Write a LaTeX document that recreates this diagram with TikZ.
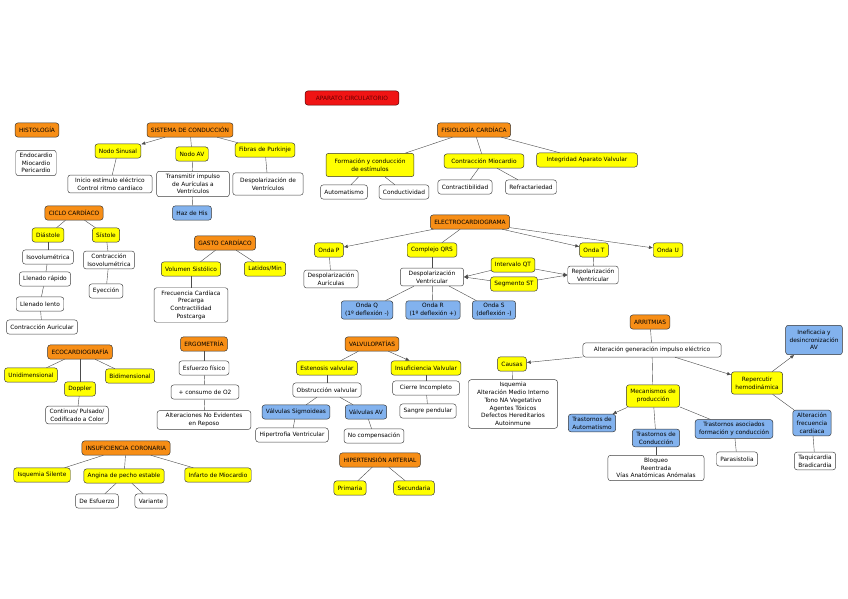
\documentclass[tikz,border=0pt]{standalone}
\usepackage{fontspec}
\setmainfont{DejaVu Sans}
\usetikzlibrary{arrows.meta}
\definecolor{mapred}{RGB}{240,20,20}
\definecolor{maporange}{RGB}{247,142,22}
\definecolor{mapyellow}{RGB}{255,255,0}
\definecolor{mapblue}{RGB}{130,178,238}
\tikzset{
  box/.style={draw=black!80, rounded corners=2.2pt, align=center, line width=0.4pt,
    inner xsep=3.3pt, inner ysep=2.3pt, minimum height=12pt,
    font=\fontsize{5}{6.6}\selectfont},
  titlebox/.style={box, fill=mapred, draw=black!70!red, text=black!60!red, minimum width=80pt},
  topic/.style={box, fill=maporange},
  idea/.style={box, fill=mapyellow},
  detail/.style={box, fill=mapblue},
  plain/.style={box, fill=white, draw=black!75},
  link/.style={draw=black!70, line width=0.35pt},
}
\begin{document}
\begin{tikzpicture}[x=0.03cm, y=-0.03cm, >={Latex[length=3.5pt,width=3pt]}]
  \useasboundingbox (0,0) rectangle (848,599);
  % title
  \node[titlebox] (aparato) at (352,98) {APARATO CIRCULATORIO};

  % histologia
  \node[topic] (histo) at (37,130) {HISTOLOGÍA};
  \node[plain] (capas) at (36,163) {Endocardio\\Miocardio\\Pericardio};

  % sistema de conduccion
  \node[topic] (sistema) at (190,130) {SISTEMA DE CONDUCCIÓN};
  \node[idea] (sinusal) at (118,151) {Nodo Sinusal};
  \node[idea] (nodoav) at (192,154) {Nodo AV};
  \node[idea] (purkinje) at (265,150) {Fibras de Purkinje};
  \node[plain, minimum width=72pt] (inicio) at (110,184) {Inicio estímulo eléctrico\\Control ritmo cardíaco};
  \node[plain, minimum width=62pt] (transmitir) at (193,184) {Transmitir impulso\\de Aurículas a\\Ventrículos};
  \node[plain, minimum width=60pt, minimum height=19pt] (despolven) at (268,184) {Despolarización de\\Ventrículos};
  \node[detail] (his) at (192,213) {Haz de His};
  \draw[link, ->] (sistema) -- (sinusal);
  \draw[link] (sistema) -- (nodoav);
  \draw[link] (sistema) -- (purkinje);
  \draw[link] (sinusal) -- (inicio);
  \draw[link] (nodoav) -- (transmitir);
  \draw[link] (purkinje) -- (despolven);
  \draw[link] (transmitir) -- (his);

  % fisiologia cardiaca
  \node[topic] (fisio) at (474,130) {FISIOLOGÍA CARDÍACA};
  \node[idea, minimum width=75pt, minimum height=20pt] (formacion) at (370,165) {Formación y conducción\\de estímulos};
  \node[idea, minimum width=68pt] (contraccion) at (484,161) {Contracción Miocardio};
  \node[idea, minimum width=86pt] (integridad) at (587,160) {Integridad Aparato Valvular};
  \node[plain] (automatismo) at (344,192) {Automatismo};
  \node[plain] (conductividad) at (404,192) {Conductividad};
  \node[plain] (contractib) at (465,187) {Contractibilidad};
  \node[plain] (refract) at (531,187) {Refractariedad};
  \draw[link] (fisio) -- (formacion);
  \draw[link] (fisio) -- (contraccion);
  \draw[link] (fisio) -- (integridad);
  \draw[link] (formacion) -- (automatismo);
  \draw[link] (formacion) -- (conductividad);
  \draw[link] (contraccion) -- (contractib);
  \draw[link] (contraccion) -- (refract);

  % ciclo cardiaco
  \node[topic] (ciclo) at (74,213) {CICLO CARDÍACO};
  \node[idea] (diastole) at (48,235) {Diástole};
  \node[idea] (sistole) at (106,235) {Sístole};
  \node[plain] (isovol) at (48,257) {Isovolumétrica};
  \node[plain] (rapido) at (45,279) {Llenado rápido};
  \node[plain] (lento) at (40,304) {Llenado lento};
  \node[plain] (auricular) at (42,327) {Contracción Auricular};
  \node[plain] (contriso) at (109,260) {Contracción\\Isovolumétrica};
  \node[plain] (eyeccion) at (106,291) {Eyección};
  \draw[link] (ciclo) -- (diastole);
  \draw[link] (ciclo) -- (sistole);
  \draw[link] (diastole) -- (isovol);
  \draw[link] (isovol) -- (rapido);
  \draw[link] (rapido) -- (lento);
  \draw[link] (lento) -- (auricular);
  \draw[link] (sistole) -- (contriso);
  \draw[link] (contriso) -- (eyeccion);

  % gasto cardiaco
  \node[topic] (gasto) at (225,243) {GASTO CARDÍACO};
  \node[idea] (volumen) at (191,269) {Volumen Sistólico};
  \node[idea] (latidos) at (265,269) {Latidos/Min};
  \node[plain, minimum width=63pt] (factores) at (191,305) {Frecuencia Cardíaca\\Precarga\\Contractilidad\\Postcarga};
  \draw[link] (gasto) -- (volumen);
  \draw[link] (gasto) -- (latidos);
  \draw[link] (volumen) -- (factores);

  % electrocardiograma
  \node[topic] (ecg) at (470,222) {ELECTROCARDIOGRAMA};
  \node[idea] (ondap) at (329,250) {Onda P};
  \node[idea] (qrs) at (432,250) {Complejo QRS};
  \node[idea] (ondat) at (594,250) {Onda T};
  \node[idea] (ondau) at (668,250) {Onda U};
  \node[plain] (despaur) at (331,279) {Despolarización\\Aurículas};
  \node[plain, minimum width=54pt] (despvent) at (432,277) {Despolarización\\Ventricular};
  \node[idea] (qt) at (513,265) {Intervalo QT};
  \node[idea] (st) at (514,284) {Segmento ST};
  \node[plain] (repol) at (593,275) {Repolarización\\Ventricular};
  \node[detail] (ondaq) at (367,310) {Onda Q\\(1º deflexión -)};
  \node[detail] (ondar) at (433,310) {Onda R\\(1º deflexión +)};
  \node[detail] (ondas) at (494,310) {Onda S\\(deflexión -)};
  \draw[link, ->] (ecg) -- (ondap);
  \draw[link] (ecg) -- (qrs);
  \draw[link, ->] (ecg) -- (ondat);
  \draw[link, ->] (ecg) -- (ondau);
  \draw[link] (ondap) -- (despaur);
  \draw[link] (qrs) -- (despvent);
  \draw[link] (ondat) -- (repol);
  \draw[link, ->] (qt) -- (despvent.east);
  \draw[link, ->] (st) -- (despvent.east);
  \draw[link, ->] (qt) -- (repol.west);
  \draw[link, ->] (st) -- (repol.west);
  \draw[link] (despvent) -- (ondaq);
  \draw[link] (despvent) -- (ondar);
  \draw[link] (despvent) -- (ondas);

  % arritmias
  \node[topic] (arritmias) at (650,322) {ARRITMIAS};
  \node[plain, minimum width=118pt] (alteracion) at (652,350) {Alteración generación impulso eléctrico};
  \node[idea] (causas) at (512,364) {Causas};
  \node[plain, minimum width=76pt] (listacausas) at (513,404) {Isquemia\\Alteración Medio Interno\\Tono NA Vegetativo\\Agentes Tóxicos\\Defectos Hereditarios\\Autoinmune};
  \node[idea, minimum height=19pt] (mecanismos) at (653,396) {Mecanismos de\\producción};
  \node[idea, minimum height=19pt] (repercutir) at (757,383) {Repercutir\\hemodinámica};
  \node[detail, minimum height=25pt] (ineficacia) at (814,340) {Ineficacia y\\desincronización\\AV};
  \node[detail] (altfrec) at (812,423) {Alteración\\frecuencia\\cardíaca};
  \node[plain] (taqui) at (815,461) {Taquicardia\\Bradicardia};
  \node[detail] (trauto) at (592,423) {Trastornos de\\Automatismo};
  \node[detail] (trcond) at (656,438) {Trastornos de\\Conducción};
  \node[detail] (trasoc) at (734,429) {Trastornos asociados\\formación y conducción};
  \node[plain, minimum width=82pt] (bloqueo) at (656,468) {Bloqueo\\Reentrada\\Vías Anatómicas Anómalas};
  \node[plain] (parasis) at (737,459) {Parasistolia};
  \draw[link] (arritmias) -- (alteracion);
  \draw[link, ->] (alteracion) -- (causas);
  \draw[link] (causas) -- (listacausas);
  \draw[link] (alteracion) -- (mecanismos);
  \draw[link, ->] (alteracion) -- (repercutir);
  \draw[link, ->] (repercutir) -- (ineficacia);
  \draw[link] (repercutir) -- (altfrec);
  \draw[link] (altfrec) -- (taqui);
  \draw[link, ->] (mecanismos) -- (trauto);
  \draw[link] (mecanismos) -- (trcond);
  \draw[link] (mecanismos) -- (trasoc);
  \draw[link] (trcond) -- (bloqueo);
  \draw[link] (trasoc) -- (parasis);

  % ecocardiografia
  \node[topic] (eco) at (80,352) {ECOCARDIOGRAFÍA};
  \node[idea] (unidim) at (31,375) {Unidimensional};
  \node[idea] (bidim) at (130,376) {Bidimensional};
  \node[idea] (doppler) at (80,389) {Doppler};
  \node[plain] (modos) at (77,415) {Continuo/ Pulsado/\\Codificado a Color};
  \draw[link] (eco) -- (unidim);
  \draw[link] (eco) -- (bidim);
  \draw[link] (eco) -- (doppler);
  \draw[link] (doppler) -- (modos);

  % ergometria
  \node[topic] (ergo) at (204,344) {ERGOMETRÍA};
  \node[plain] (esfuerzo) at (204,368) {Esfuerzo físico};
  \node[plain, minimum width=58pt] (consumo) at (205,392) {+ consumo de O2};
  \node[plain, minimum width=80pt] (reposo) at (204,420) {Alteraciones No Evidentes\\en Reposo};
  \draw[link] (ergo) -- (esfuerzo);
  \draw[link] (esfuerzo) -- (consumo);
  \draw[link] (consumo) -- (reposo);

  % insuficiencia coronaria
  \node[topic] (coronaria) at (126,448) {INSUFICIENCIA CORONARIA};
  \node[idea] (silente) at (42,475) {Isquemia Silente};
  \node[idea] (angina) at (124,476) {Angina de pecho estable};
  \node[idea] (infarto) at (218,475) {Infarto de Miocardio};
  \node[plain] (esfangina) at (97,501) {De Esfuerzo};
  \node[plain] (variante) at (151,501) {Variante};
  \draw[link] (coronaria) -- (silente);
  \draw[link] (coronaria) -- (angina);
  \draw[link] (coronaria) -- (infarto);
  \draw[link] (angina) -- (esfangina);
  \draw[link] (angina) -- (variante);

  % valvulopatias
  \node[topic] (valvulo) at (372,344) {VALVULOPATÍAS};
  \node[idea] (estenosis) at (327,368) {Estenosis valvular};
  \node[idea] (insufval) at (426,368) {Insuficiencia Valvular};
  \node[plain] (obstruccion) at (327,390) {Obstrucción valvular};
  \node[plain, minimum width=57pt] (cierre) at (426,388) {Cierre Incompleto};
  \node[plain] (pendular) at (428,411) {Sangre pendular};
  \node[detail] (sigmoideas) at (296,412) {Válvulas Sigmoideas};
  \node[detail] (valvav) at (366,412) {Válvulas AV};
  \node[plain] (hipertrofia) at (292,435) {Hipertrofia Ventricular};
  \node[plain] (nocomp) at (374,436) {No compensación};
  \draw[link] (valvulo) -- (estenosis);
  \draw[link, ->] (valvulo) -- (insufval);
  \draw[link] (estenosis) -- (obstruccion);
  \draw[link] (obstruccion) -- (sigmoideas);
  \draw[link] (obstruccion) -- (valvav);
  \draw[link] (sigmoideas) -- (hipertrofia);
  \draw[link] (valvav) -- (nocomp);
  \draw[link] (insufval) -- (cierre);
  \draw[link] (cierre) -- (pendular);

  % hipertension arterial
  \node[topic] (hta) at (380,460) {HIPERTENSIÓN ARTERIAL};
  \node[idea] (primaria) at (350,488) {Primaria};
  \node[idea] (secundaria) at (414,488) {Secundaria};
  \draw[link] (hta) -- (primaria);
  \draw[link] (hta) -- (secundaria);
\end{tikzpicture}
\end{document}
